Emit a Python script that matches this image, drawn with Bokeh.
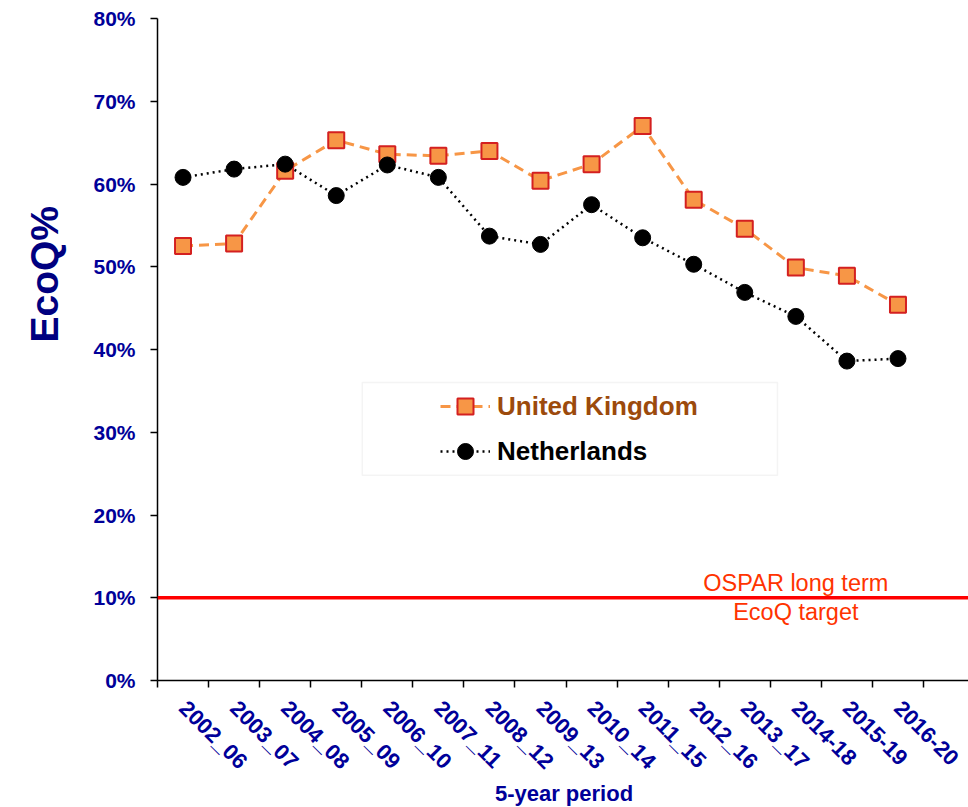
import math
from bokeh.plotting import figure
from bokeh.models import (Range1d, FixedTicker, Span, Label, Legend, LegendItem,
                          BoxAnnotation, PrintfTickFormatter, Title)
from bokeh.embed import file_html
from bokeh.resources import INLINE

PERIODS = ["2002_06", "2003_07", "2004_08", "2005_09", "2006_10", "2007_11",
           "2008_12", "2009_13", "2010_14", "2011_15", "2012_16", "2013_17",
           "2014-18", "2015-19", "2016-20"]
UK = [52.5, 52.8, 61.6, 65.3, 63.6, 63.4, 64.0, 60.4, 62.4, 67.0, 58.1, 54.6, 49.9, 48.9, 45.4]
NL = [60.8, 61.8, 62.4, 58.6, 62.3, 60.8, 53.7, 52.7, 57.5, 53.5, 50.3, 46.9, 44.0, 38.6, 38.9]
TARGET = 10
Y_TICKS = [0, 10, 20, 30, 40, 50, 60, 70, 80]

FONT = "Liberation Sans"
NAVY = "#000099"

x = [i + 0.5 for i in range(len(PERIODS))]
bounds = list(range(len(PERIODS) + 1))

p = figure(frame_width=813, frame_height=662, x_range=Range1d(0, 15.92),
           y_range=Range1d(0, 80), output_backend="svg", toolbar_location=None,
           min_border_left=155, min_border_top=18, min_border_right=0,
           min_border_bottom=0)
p.grid.visible = False
p.outline_line_color = None

# legend box (decoration)
p.add_layout(BoxAnnotation(left=4.01, right=12.14, bottom=24.8, top=36.0,
                           fill_color="white", fill_alpha=1, line_color="#D9D9D9",
                           line_width=1.5, level="underlay"))

uk_line = p.line(x, UK, line_color="#F79646", line_width=3, line_dash="10 6")
uk_pts = p.scatter(x, UK, marker="square", size=16, fill_color="#F79646",
                   line_color="#D42020", line_width=2)
nl_line = p.line(x, NL, line_color="black", line_width=2.5, line_dash="2 4")
nl_pts = p.scatter(x, NL, marker="circle", size=16, fill_color="black",
                   line_color="black")

p.add_layout(Span(location=TARGET, dimension="width", line_color="#FF0000",
                  line_width=3.5))
p.add_layout(Label(x=12.5, y=TARGET, text="OSPAR long term\nEcoQ target",
                   text_align="center", text_baseline="middle",
                   text_color="#FF3300", text_font_size="23.5px",
                   text_font=FONT, text_line_height=1.1))

# y-axis title (as a left-side title so it can sit above the frame centre)
p.add_layout(Title(text="EcoQ%", align="left", offset=338, standoff=45,
                   vertical_align="top",
                   text_color="#000080", text_font_size="39px",
                   text_font=FONT, text_font_style="bold"), "left")

def make_legend(label, rends, color, loc):
    return Legend(items=[LegendItem(label=label, renderers=rends)], location=loc,
                  label_text_font=FONT, label_text_font_style="bold",
                  label_text_font_size="26px", label_text_color=color,
                  glyph_width=50, glyph_height=40, label_standoff=7,
                  padding=5, margin=0, border_line_color=None,
                  background_fill_alpha=0)

p.add_layout(make_legend("United Kingdom", [uk_line, uk_pts], "#9C4A0C", (283, 254)))
p.add_layout(make_legend("Netherlands", [nl_line, nl_pts], "black", (283, 209)))

# y axis
ya = p.yaxis[0]
ya.ticker = FixedTicker(ticks=Y_TICKS)
ya.formatter = PrintfTickFormatter(format="%d%%")
ya.major_label_text_font = FONT
ya.major_label_text_font_style = "bold"
ya.major_label_text_font_size = "21px"
ya.major_label_text_color = NAVY
ya.major_tick_out = 7
ya.major_tick_in = 0
ya.major_tick_line_width = 1.5
ya.minor_tick_line_color = None
ya.axis_line_width = 1.5
ya.major_label_standoff = 15

# x axis
xa = p.xaxis[0]
xa.ticker = FixedTicker(ticks=x, minor_ticks=bounds)
xa.major_label_overrides = {xi: lab for xi, lab in zip(x, PERIODS)}
xa.major_label_orientation = -math.pi / 4
xa.major_label_text_font = FONT
xa.major_label_text_font_style = "bold"
xa.major_label_text_font_size = "22px"
xa.major_label_text_color = NAVY
xa.major_tick_out = 0
xa.major_tick_in = 0
xa.minor_tick_out = 7
xa.minor_tick_in = 0
xa.minor_tick_line_color = "black"
xa.minor_tick_line_width = 1.5
xa.axis_line_width = 1.5
xa.major_label_standoff = 17
xa.axis_label = "5-year period"
xa.axis_label_text_font = FONT
xa.axis_label_text_font_style = "bold"
xa.axis_label_text_font_size = "22px"
xa.axis_label_text_color = NAVY
xa.axis_label_standoff = -5

open("out.html", "w").write(file_html(p, INLINE))
